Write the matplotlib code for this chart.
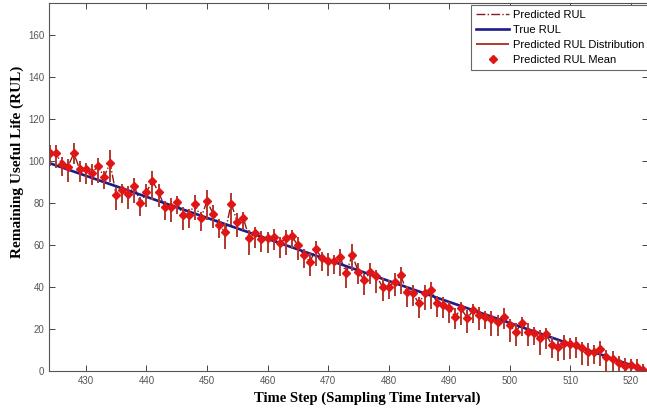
import numpy as np
import matplotlib
matplotlib.use("Agg")
import matplotlib.pyplot as plt

# time steps and RUL values
t = np.arange(424, 523)
true_rul = 523 - t
pred_mean = [103.8, 103.8, 98.8, 97.2, 103.6, 96.0, 96.0, 94.5, 97.5, 92.5,
             99.1, 83.8, 86.1, 84.1, 88.0, 80.0, 85.3, 90.5, 85.3, 78.2,
             78.2, 80.6, 74.3, 74.3, 79.8, 72.7, 81.0, 75.0, 69.5, 66.3,
             79.8, 71.1, 73.0, 63.2, 65.8, 62.7, 63.2, 63.9, 60.8, 63.2,
             64.3, 60.0, 55.2, 52.1, 58.0, 53.7, 52.5, 52.5, 54.2, 46.6,
             55.5, 47.3, 43.4, 47.3, 45.3, 40.2, 40.2, 42.6, 45.7, 37.8,
             37.1, 32.3, 37.1, 38.6, 32.6, 31.5, 29.9, 25.9, 29.9, 25.2,
             29.1, 26.7, 25.9, 24.7, 23.6, 25.9, 22.0, 18.8, 22.8, 18.8,
             18.3, 15.7, 17.7, 12.5, 11.7, 13.3, 13.0, 12.5, 10.9, 9.3,
             9.3, 10.5, 6.9, 5.7, 4.1, 2.5, 3.0, 1.9, 0.6]
# spread of the predicted distribution below / above the mean
err_lo = [6, 7, 6, 7, 5, 6, 7, 6, 8, 6, 9, 7, 6, 7, 8, 6, 7, 9, 7, 6,
          7, 6, 7, 6, 8, 6, 9, 7, 6, 8, 10, 7, 6, 8, 7, 6, 7, 6, 7, 8,
          6, 7, 6, 7, 8, 6, 7, 6, 9, 7, 8, 6, 7, 6, 8, 7, 6, 7, 9, 7,
          6, 7, 8, 9, 7, 6, 7, 6, 8, 7, 6, 7, 6, 8, 7, 6, 8, 7, 6, 7,
          6, 8, 7, 6, 7, 8, 7, 6, 8, 7, 6, 8, 7, 6, 7, 6, 7, 6, 6]
err_hi = [4, 4, 3, 4, 5, 4, 3, 4, 4, 3, 6, 4, 3, 4, 4, 3, 4, 5, 4, 3,
          4, 3, 4, 3, 4, 3, 5, 4, 3, 4, 5, 4, 3, 4, 3, 4, 3, 4, 3, 4,
          3, 4, 3, 4, 4, 3, 4, 3, 4, 3, 5, 4, 3, 4, 3, 4, 3, 4, 4, 3,
          4, 3, 4, 4, 3, 4, 3, 4, 3, 4, 3, 4, 3, 4, 3, 4, 3, 4, 3, 4,
          3, 4, 3, 4, 3, 4, 3, 4, 3, 4, 3, 4, 3, 4, 3, 4, 3, 4, 3]

pred_mean = np.array(pred_mean)
err_lo = np.array(err_lo)
err_hi = np.array(err_hi)

fig = plt.figure(figsize=(6.47, 4.12), dpi=100)
ax = fig.add_axes([0.0757, 0.0988, 0.9253, 0.893])

ax.plot(t, pred_mean, '-.', color='#8b1a1a', lw=1.0, label='Predicted RUL')
ax.plot(t, true_rul, '-', color='#1c1c8a', lw=1.9, label='True RUL')
ax.vlines(t, pred_mean - err_lo, pred_mean + err_hi, color='#b03a30', lw=1.4,
          label='Predicted RUL Distribution')
ax.plot(t, pred_mean, 'D', color='#e01515', ms=3.8, ls='none',
        label='Predicted RUL Mean')

ax.set_xlim(423.9, 522.8)
ax.set_ylim(0, 175)
ax.set_xticks(np.arange(430, 521, 10))
ax.set_yticks(np.arange(0, 161, 20))
ax.tick_params(direction='in', top=True, right=True, length=4, width=0.7,
               labelsize=7, colors='#444444', labelcolor='#555555')
for s in ax.spines.values():
    s.set_color('#555555')
    s.set_linewidth(0.8)
for lab in ax.get_xticklabels() + ax.get_yticklabels():
    lab.set_family('Liberation Sans')

ax.set_xlabel('Time Step (Sampling Time Interval)', family='Liberation Serif',
              fontweight='bold', fontsize=10.5)
ax.set_ylabel('Remaining Useful Life (RUL)', family='Liberation Serif',
              fontweight='bold', fontsize=11)
ax.xaxis.set_label_coords(0.532, -0.056)
ax.yaxis.set_label_coords(-0.042, 0.569)

leg = ax.legend(loc='upper left', bbox_to_anchor=(471 / 647, 1 - 5 / 412),
                bbox_transform=fig.transFigure, fancybox=False, framealpha=1,
                edgecolor='#666666', prop={'family': 'Liberation Sans', 'size': 8},
                handlelength=3.0, borderpad=0.45, labelspacing=0.45,
                handletextpad=0.3, borderaxespad=0)
leg.get_frame().set_linewidth(0.8)

fig.savefig('out.png', dpi=100)
